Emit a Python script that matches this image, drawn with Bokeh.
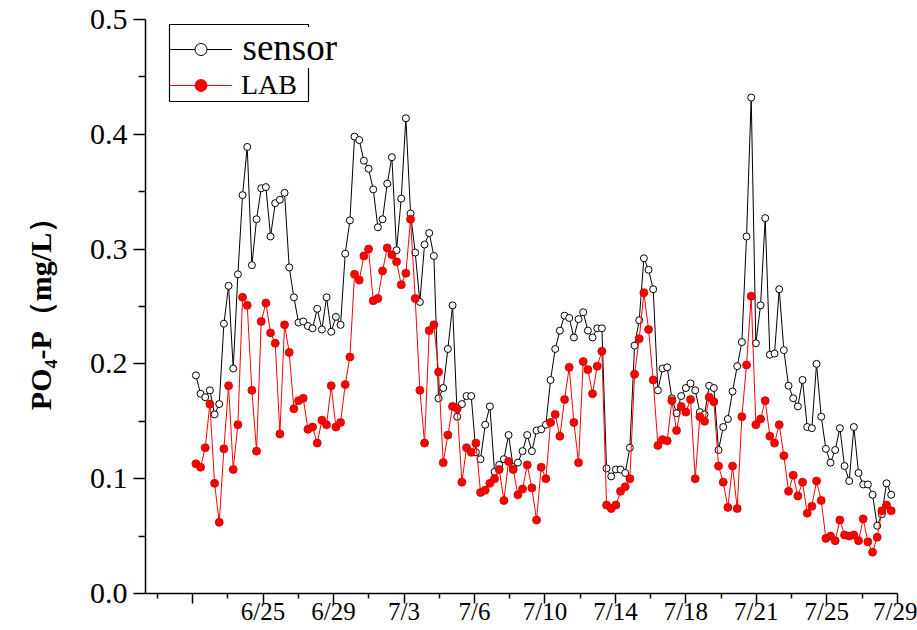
from bokeh.plotting import figure
from bokeh.models import (ColumnDataSource, FixedTicker, Legend, LegendItem, Label,
                          Range1d, PrintfTickFormatter, BoxAnnotation)
from bokeh.embed import file_html
from bokeh.resources import INLINE

# Date labels under the major ticks of the sample axis (first major tick is unlabeled)
date_labels = ["", "6/25", "6/29", "7/3", "7/6", "7/10", "7/14", "7/18", "7/21", "7/25", "7/29"]

# PO4-P concentration (mg/L), one value per sample
sensor = [0.190, 0.174, 0.171, 0.177, 0.156, 0.165, 0.235, 0.268, 0.196, 0.278,
          0.347, 0.389, 0.286, 0.326, 0.353, 0.354, 0.311, 0.340, 0.343, 0.349,
          0.284, 0.258, 0.236, 0.237, 0.233, 0.231, 0.248, 0.230, 0.258, 0.228,
          0.241, 0.234, 0.296, 0.325, 0.398, 0.395, 0.377, 0.370, 0.352, 0.319,
          0.326, 0.357, 0.380, 0.299, 0.344, 0.414, 0.331, 0.297, 0.254, 0.304,
          0.314, 0.294, 0.170, 0.179, 0.213, 0.251, 0.154, 0.165, 0.172, 0.172,
          0.123, 0.117, 0.147, 0.163, 0.106, 0.112, 0.117, 0.138, 0.110, 0.114,
          0.124, 0.138, 0.124, 0.142, 0.143, 0.147, 0.186, 0.213, 0.229, 0.242,
          0.240, 0.223, 0.239, 0.245, 0.229, 0.223, 0.231, 0.231, 0.109, 0.102,
          0.108, 0.108, 0.105, 0.127, 0.216, 0.238, 0.292, 0.282, 0.265, 0.177,
          0.196, 0.197, 0.170, 0.157, 0.172, 0.179, 0.183, 0.177, 0.158, 0.156,
          0.181, 0.179, 0.125, 0.145, 0.152, 0.176, 0.198, 0.219, 0.311, 0.432,
          0.218, 0.251, 0.327, 0.208, 0.209, 0.265, 0.212, 0.181, 0.170, 0.163,
          0.186, 0.145, 0.144, 0.200, 0.154, 0.126, 0.114, 0.125, 0.144, 0.111,
          0.098, 0.145, 0.105, 0.095, 0.095, 0.086, 0.059, 0.069, 0.096, 0.086]

lab = [0.113, 0.110, 0.127, 0.165, 0.096, 0.062, 0.126, 0.181, 0.108, 0.147,
       0.258, 0.251, 0.177, 0.124, 0.237, 0.253, 0.227, 0.218, 0.139, 0.234,
       0.210, 0.161, 0.168, 0.170, 0.143, 0.145, 0.131, 0.151, 0.147, 0.181,
       0.145, 0.149, 0.182, 0.206, 0.278, 0.273, 0.294, 0.300, 0.255, 0.257,
       0.281, 0.301, 0.295, 0.289, 0.269, 0.279, 0.326, 0.257, 0.177, 0.131,
       0.229, 0.234, 0.193, 0.114, 0.138, 0.163, 0.161, 0.097, 0.127, 0.123,
       0.131, 0.088, 0.090, 0.096, 0.100, 0.108, 0.081, 0.115, 0.108, 0.086,
       0.091, 0.112, 0.092, 0.064, 0.110, 0.100, 0.149, 0.156, 0.137, 0.169,
       0.197, 0.149, 0.114, 0.202, 0.195, 0.174, 0.198, 0.211, 0.077, 0.074,
       0.077, 0.089, 0.093, 0.100, 0.191, 0.222, 0.262, 0.230, 0.186, 0.129,
       0.134, 0.133, 0.168, 0.142, 0.163, 0.158, 0.169, 0.100, 0.154, 0.150,
       0.171, 0.167, 0.111, 0.097, 0.075, 0.111, 0.074, 0.154, 0.199, 0.259,
       0.147, 0.152, 0.168, 0.137, 0.131, 0.147, 0.120, 0.089, 0.103, 0.085,
       0.097, 0.070, 0.076, 0.098, 0.081, 0.048, 0.050, 0.046, 0.064, 0.051,
       0.050, 0.051, 0.046, 0.065, 0.045, 0.036, 0.049, 0.072, 0.077, 0.072]

sample = list(range(len(sensor)))
src = ColumnDataSource(dict(x=sample, sensor=sensor, lab=lab))

SERIF = "Liberation Serif"

p = figure(frame_width=752, frame_height=574,
           x_range=Range1d(-10.8, 150.35), y_range=Range1d(0, 0.5),
           output_backend="svg", toolbar_location=None,
           min_border_left=145, min_border_top=19, min_border_right=20, min_border_bottom=37,
           background_fill_color="white", border_fill_color="white")
p.outline_line_color = None
p.xgrid.visible = False
p.ygrid.visible = False

# sample axis: a major tick every 15.1 samples, one minor tick between
tick_start, tick_step = -0.7, 15.1
major = [round(tick_start + tick_step * k, 2) for k in range(len(date_labels))]
minor = [round(tick_start + tick_step * (k - 0.5), 2) for k in range(len(date_labels))]
p.xaxis.ticker = FixedTicker(ticks=major, minor_ticks=minor)
p.xaxis.major_label_overrides = {t: lbl for t, lbl in zip(major, date_labels)}

p.yaxis.ticker = FixedTicker(ticks=[0.0, 0.1, 0.2, 0.3, 0.4, 0.5],
                             minor_ticks=[0.05, 0.15, 0.25, 0.35, 0.45])
p.yaxis.formatter = PrintfTickFormatter(format="%.1f")

for ax in (p.xaxis[0], p.yaxis[0]):
    ax.axis_line_color = "black"
    ax.axis_line_width = 1.5
    ax.major_tick_line_color = "black"
    ax.major_tick_line_width = 1.5
    ax.minor_tick_line_color = "black"
    ax.minor_tick_line_width = 1.5
    ax.major_tick_in = 0
    ax.minor_tick_in = 0
    ax.major_label_text_font = SERIF
    ax.major_label_text_color = "black"

p.xaxis.major_tick_out = 10
p.xaxis.minor_tick_out = 5
p.xaxis.major_label_standoff = -6
p.xaxis.major_label_text_font_size = "25px"

p.yaxis.major_tick_out = 12
p.yaxis.minor_tick_out = 7
p.yaxis.major_label_standoff = 6
p.yaxis.major_label_text_font_size = "30px"
p.yaxis.axis_label = "PO₄-P（mg/L）"
p.yaxis.axis_label_text_font = SERIF
p.yaxis.axis_label_text_font_size = "30px"
p.yaxis.axis_label_text_font_style = "bold"
p.yaxis.axis_label_text_color = "black"
p.yaxis.axis_label_standoff = 30

# series
s_line = p.line("x", "sensor", source=src, line_color="black", line_width=1)
s_pts = p.scatter("x", "sensor", source=src, marker="circle", size=7,
                  fill_color="white", line_color="black", line_width=1)
l_line = p.line("x", "lab", source=src, line_color="#ff0000", line_width=1)
l_pts = p.scatter("x", "lab", source=src, marker="circle", size=8,
                  fill_color="#ff0000", line_color="#cc0000", line_width=0.8)

# legend frame (drawn separately so the series name can sit over its top edge)
p.add_layout(BoxAnnotation(left=24, right=163, bottom=492, top=569,
                           left_units="screen", right_units="screen",
                           bottom_units="screen", top_units="screen",
                           fill_color="white", fill_alpha=1.0,
                           line_color="black", line_width=1.2, line_alpha=1.0,
                           level="annotation"))

legend = Legend(items=[LegendItem(label=" ", renderers=[s_line, s_pts]),
                       LegendItem(label="LAB", renderers=[l_line, l_pts])],
                location=(24, 492), orientation="vertical",
                glyph_width=63, glyph_height=30, label_height=30,
                label_standoff=9, padding=4, spacing=5, margin=0,
                label_text_font=SERIF, label_text_font_size="28px",
                label_text_color="black",
                border_line_color=None, background_fill_alpha=0.0)
p.add_layout(legend)

# oversized series name written over the legend's top edge
sensor_name = Label(x=97, y=546, x_units="screen", y_units="screen", text="sensor",
                    text_font=SERIF, text_font_size="37px", text_color="black",
                    text_baseline="alphabetic", background_fill_color="white",
                    background_fill_alpha=1.0, level="overlay")
p.add_layout(sensor_name)

open("out.html", "w").write(file_html(p, INLINE))
